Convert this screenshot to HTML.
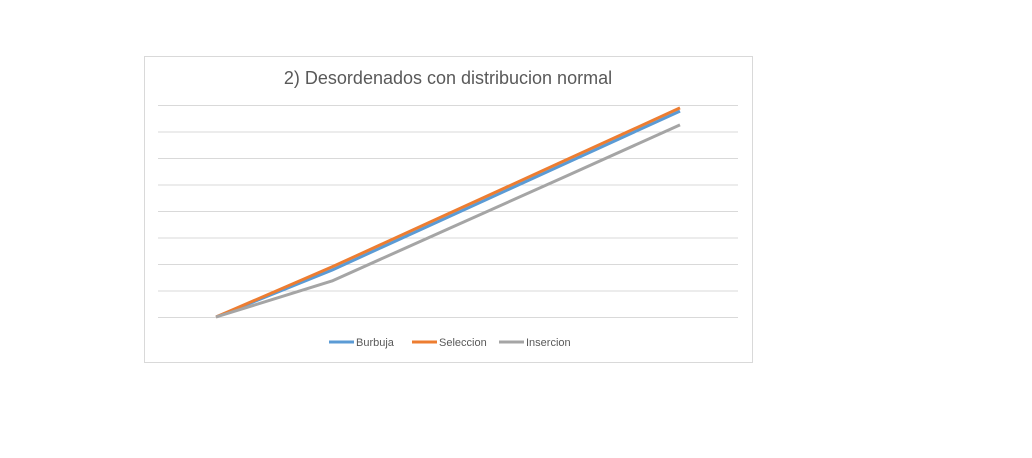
<!DOCTYPE html>
<html><head><meta charset="utf-8"><style>
body{margin:0;background:#fff;width:1032px;height:453px;overflow:hidden;font-family:"Liberation Sans",sans-serif}
</style></head><body>
<svg id="c" width="1032" height="453">
<rect x="144.5" y="56.5" width="608" height="306" fill="#fff" stroke="#d9d9d9"/>
<text x="448" y="84" text-anchor="middle" font-size="18" fill="#595959">2) Desordenados con distribucion normal</text>
<g id="grid"></g><g id="lines"></g><g id="legend"></g>
</svg>
<script>
const categories=["1","2","3","4","5"];
const burbuja=[0,1.77,3.77,5.77,7.77];
const seleccion=[0,1.89,3.89,5.89,7.89];
const insercion=[0,1.36,3.32,5.28,7.25];
const gridTicks=[0,1,2,3,4,5,6,7,8];
const ns="http://www.w3.org/2000/svg";
const x0=158,x1=738,y0=317,yTop=105,yMax=8;
function xs(i){return x0+(x1-x0)/categories.length*(i+0.5);}
function ys(v){return y0-(y0-yTop)*v/yMax;}
const g=document.getElementById('grid');
gridTicks.forEach(t=>{const l=document.createElementNS(ns,'line');
l.setAttribute('x1',x0);l.setAttribute('x2',x1);l.setAttribute('y1',ys(t)+0.5);l.setAttribute('y2',ys(t)+0.5);
l.setAttribute('stroke','#d9d9d9');


g.appendChild(l);});
const series=[["burbuja",burbuja,"#5b9bd5","Burbuja"],["seleccion",seleccion,"#ed7d31","Seleccion"],["insercion",insercion,"#a5a5a5","Insercion"]];
const L=document.getElementById('lines');
series.forEach(s=>{const p=document.createElementNS(ns,'polyline');
p.setAttribute('points',s[1].map((v,i)=>xs(i)+','+ys(v)).join(' '));
p.setAttribute('fill','none');p.setAttribute('stroke',s[2]);p.setAttribute('stroke-width','3');p.setAttribute('stroke-linejoin','round');


L.appendChild(p);});
const lg=document.getElementById('legend');
const lx=[329,412,499];
series.forEach((s,i)=>{const l=document.createElementNS(ns,'line');
l.setAttribute('x1',lx[i]);l.setAttribute('x2',lx[i]+25);l.setAttribute('y1',342);l.setAttribute('y2',342);
l.setAttribute('stroke',s[2]);l.setAttribute('stroke-width','3');


lg.appendChild(l);
const t=document.createElementNS(ns,'text');
t.setAttribute('x',lx[i]+27);t.setAttribute('y',346);t.setAttribute('font-size','11');t.setAttribute('fill','#595959');
t.textContent=s[3];


lg.appendChild(t);});
</script>
</body></html>
